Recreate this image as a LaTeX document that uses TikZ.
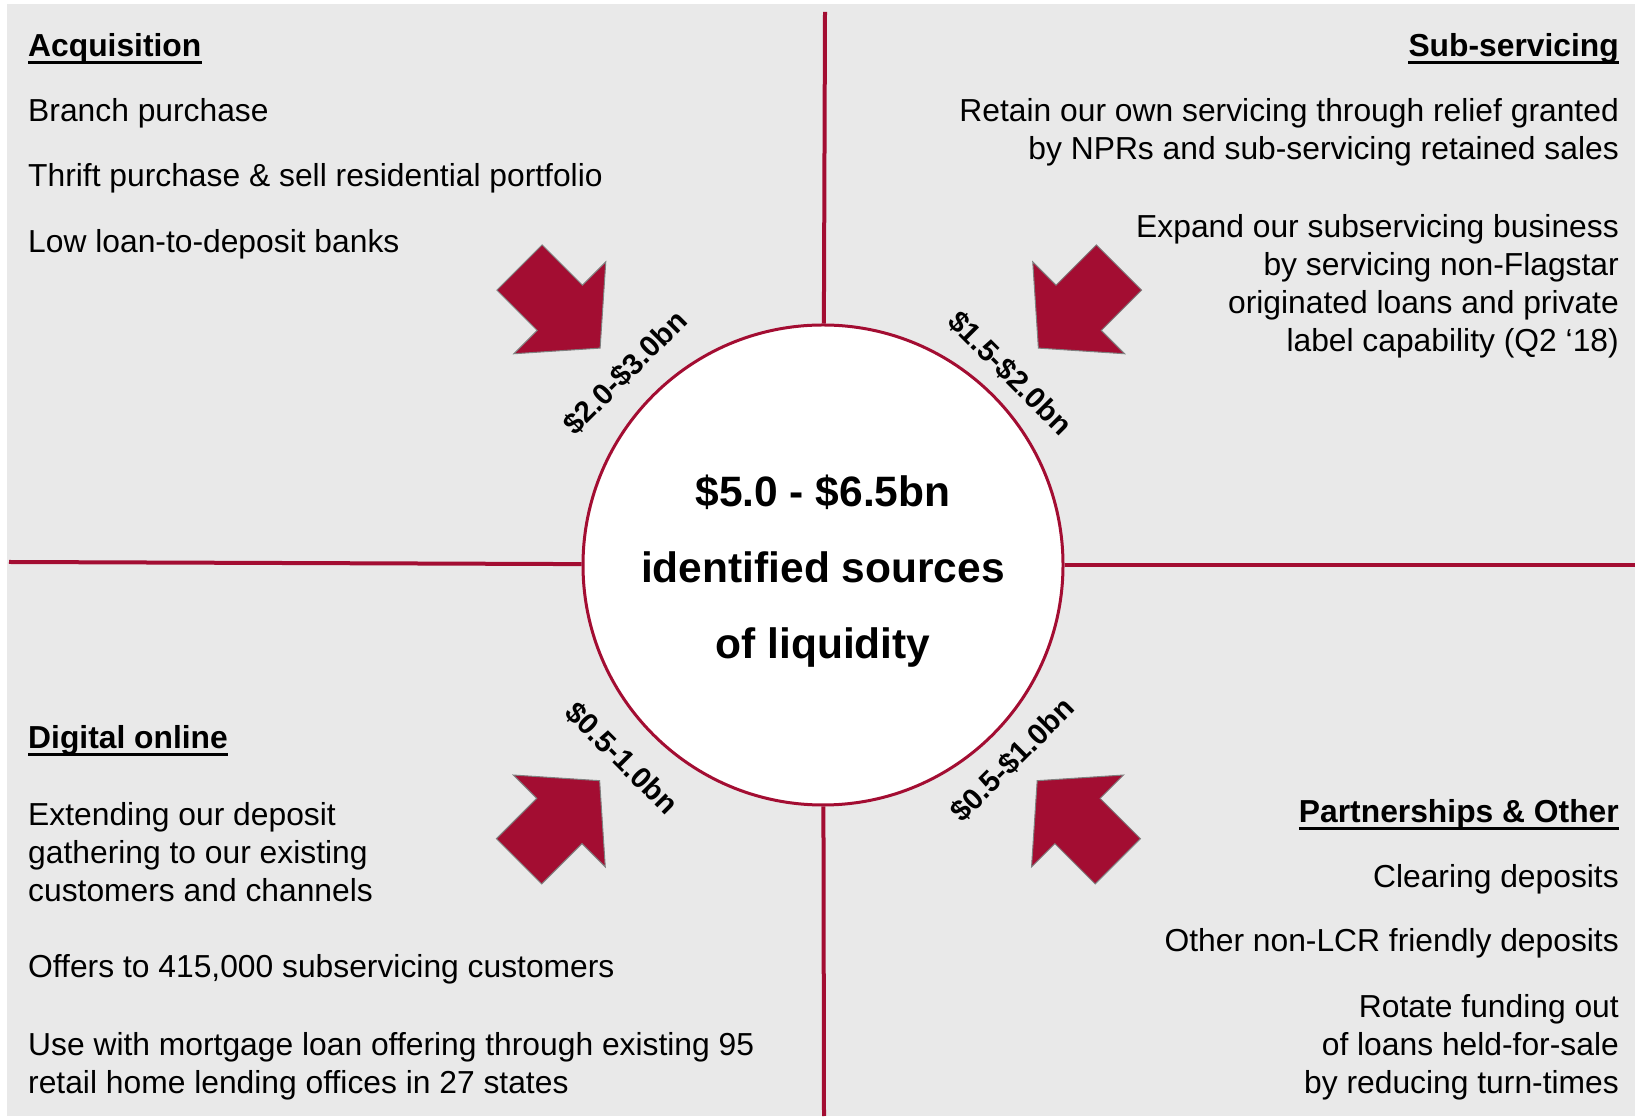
\documentclass[tikz,border=0pt]{standalone}
\usepackage{fontspec}
\setmainfont{Liberation Sans}
\usetikzlibrary{positioning}

\definecolor{liqred}{RGB}{163,13,50}
\definecolor{panel}{RGB}{233,233,233}

\begin{document}
\begin{tikzpicture}[%
    x=1pt,
    y=1pt,
    divider/.style={%
      draw=liqred,
      line width=4pt
    },
    pool/.style={%
      circle,
      draw=liqred,
      line width=3pt,
      fill=white,
      minimum size=480pt,
      inner sep=0pt
    },
    total/.style={%
      inner sep=0pt,
      align=center,
      font=\fontsize{42.5}{76}\selectfont\bfseries
    },
    heading/.style={%
      inner sep=0pt,
      font=\fontsize{31.8}{38}\selectfont\bfseries
    },
    item/.style={%
      inner sep=0pt,
      font=\fontsize{31.8}{38}\selectfont
    },
    amount/.style={%
      inner sep=0pt,
      font=\fontsize{29.5}{32}\selectfont\bfseries
    },
    uline/.style={%
      line width=3pt
    },
    inflow/.pic={%
      \path[fill=liqred,draw=gray,line width=1pt]
        (0,-32) -- (57,-32) -- (57,-65) -- (114,0) -- (57,65) -- (57,32) -- (0,32) -- cycle;
    }
  ]
    \useasboundingbox (0,0) rectangle (1635,1116);
    \fill[panel] (7,0) rectangle (1635,1112);

    \node[pool] (pool) at (823,551) {};
    \node[total] (sum) at ([yshift=-6pt]pool.center)
      {\$5.0 - \$6.5bn\\identified sources\\of liquidity};

    \coordinate (divtop)    at (825,1104);
    \coordinate (divbottom) at (824,0);
    \coordinate (divleft)   at (9,554);
    \coordinate (divright)  at (1635,551);

    \draw[divider] (divtop)    -- (pool);
    \draw[divider] (divbottom) -- (pool);
    \draw[divider] (divleft)   -- (pool);
    \draw[divider] (divright)  -- (pool);

    % inflow arrows
    \pic[rotate=-45]  at (519.5,848.5) {inflow};
    \pic[rotate=-135] at (1119,848.5)  {inflow};
    \pic[rotate=45]   at (519,254.7)   {inflow};
    \pic[rotate=135]  at (1117.8,254.7) {inflow};

    \node[amount,rotate=45]  (amt1) at (625,743.5)   {\$2.0-\$3.0bn};
    \node[amount,rotate=-45] (amt2) at (1010,743)    {\$1.5-\$2.0bn};
    \node[amount,rotate=-45] (amt3) at (621.7,357.7) {\$0.5-1.0bn};
    \node[amount,rotate=45]  (amt4) at (1012.5,356)  {\$0.5-\$1.0bn};

    % top left
    \node[heading,anchor=base west] (acq)    at (28,1059)  {Acquisition};
    \node[item,anchor=base west]    (branch) at (28,994)   {Branch purchase};
    \node[item,anchor=base west]    (thrift) at (28,929.4) {Thrift purchase \& sell residential portfolio};
    \node[item,anchor=base west]    (lowltd) at (28,863.7) {Low loan-to-deposit banks};

    % top right (multi-line nodes sit on their last baseline)
    \node[heading,anchor=base east] (sub)    at (1619,1059) {Sub-servicing};
    \node[item,anchor=base east,align=right] (retain) at (1619,956.5)
      {Retain our own servicing through relief granted\\by NPRs and sub-servicing retained sales};
    \node[item,anchor=base east,align=right] (expand) at (1619,764.6)
      {Expand our subservicing business\\by servicing non-Flagstar\\originated loans and private\\label capability (Q2 ‘18)};

    % bottom left
    \node[heading,anchor=base west] (digi)   at (28,367.4) {Digital online};
    \node[item,anchor=base west,align=left] (extend) at (28,214.1)
      {Extending our deposit\\gathering to our existing\\customers and channels};
    \node[item,anchor=base west]    (offers) at (28,138)   {Offers to 415,000 subservicing customers};
    \node[item,anchor=base west,align=left] (usewith) at (28,22.2)
      {Use with mortgage loan offering through existing 95\\retail home lending offices in 27 states};

    % bottom right
    \node[heading,anchor=base east] (part)   at (1619,293.4) {Partnerships \& Other};
    \node[item,anchor=base east]    (clear)  at (1619,228.7) {Clearing deposits};
    \node[item,anchor=base east]    (nonlcr) at (1619,164)   {Other non-LCR friendly deposits};
    \node[item,anchor=base east,align=right] (rotate) at (1619,22.2)
      {Rotate funding out\\of loans held-for-sale\\by reducing turn-times};

    \draw[uline] ([yshift=1pt]acq.south west)  -- ([yshift=1pt]acq.south east);
    \draw[uline] ([yshift=1pt]sub.south west)  -- ([yshift=1pt]sub.south east);
    \draw[uline] ([yshift=1pt]digi.south west) -- ([yshift=1pt]digi.south east);
    \draw[uline] ([yshift=1pt]part.south west) -- ([yshift=1pt]part.south east);
  \end{tikzpicture}
\end{document}
